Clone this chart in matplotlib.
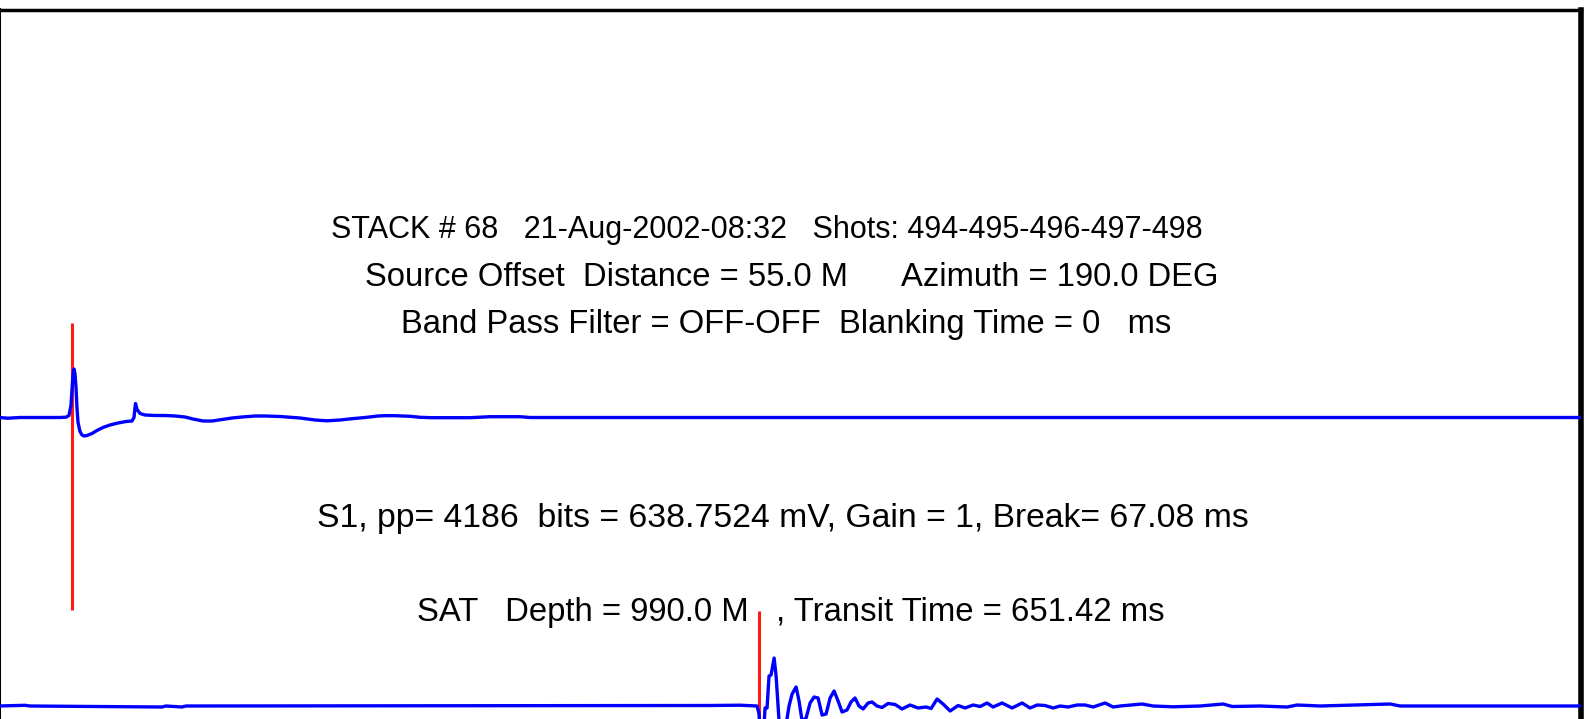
import matplotlib
matplotlib.use("Agg")
import matplotlib.pyplot as plt

# ---- header / annotation strings -------------------------------------------
stack_line = "STACK # 68   21-Aug-2002-08:32   Shots: 494-495-496-497-498"
source_line = "Source Offset  Distance = 55.0 M      Azimuth = 190.0 DEG"
filter_line = "Band Pass Filter = OFF-OFF  Blanking Time = 0   ms"
s1_line = "S1, pp= 4186  bits = 638.7524 mV, Gain = 1, Break= 67.08 ms"
sat_line = "SAT   Depth = 990.0 M   , Transit Time = 651.42 ms"

# ---- picks (ms) ------------------------------------------------------------
s1_break_ms = 67.08
sat_transit_ms = 651.42

# ---- time window (ms) ------------------------------------------------------
t_start, t_end = 5.0, 1350.0

# ---- S1 (source monitor) trace: time in ms, amplitude in display units ----
s1_time = [5.0, 12.6, 22.9, 56.9, 62.0, 64.5, 66.2, 67.1, 67.9, 68.8, 69.6,
           70.5, 71.3, 72.2, 73.9, 75.6, 77.3, 79.8, 84.1, 88.3, 93.4, 99.4,
           106.2, 113.0, 118.1, 119.8, 120.7, 121.1, 122.4, 125.0, 129.2,
           137.7, 146.2, 154.7, 163.2, 170.0, 178.5, 186.2, 194.7, 203.2,
           211.7, 222.7, 231.2, 244.0, 261.0, 273.8, 284.0, 295.0, 305.2,
           316.3, 327.3, 333.3, 341.8, 354.6, 363.1, 373.3, 405.6, 422.6,
           448.1, 456.6, 1350.0]
s1_amp = [0.0, -0.7, 0.0, 0.0, 0.3, 2.0, 12.0, 28.0, 42.0, 48.5, 44.0,
          30.0, 10.0, -5.0, -14.0, -17.5, -18.5, -18.0, -16.0, -13.0, -10.0,
          -7.5, -5.5, -4.0, -3.5, 0.0, 10.0, 14.0, 8.0, 4.0, 2.5,
          2.0, 2.0, 1.5, 0.5, -1.5, -3.5, -3.5, -2.0, -0.5,
          0.5, 1.5, 1.5, 1.0, -0.5, -2.5, -3.3, -2.5, -1.2,
          0.0, 1.5, 1.8, 1.8, 1.2, 0.2, -0.2, -0.2, 0.8,
          0.8, 0.0, 0.0]

# ---- SAT (downhole) trace --------------------------------------------------
sat_time = [5.0, 27.1, 31.4, 143.6, 147.0, 160.6, 164.0, 609.7, 635.2, 649.7,
            651.4, 652.3, 654.0, 655.6, 656.5, 658.2, 659.9, 661.6, 664.2,
            665.9, 668.4, 671.0, 673.5, 676.9, 679.5, 682.9, 685.4, 688.0,
            691.4, 694.8, 698.2, 701.6, 705.0, 708.4, 711.8, 715.2, 718.6,
            722.0, 726.2, 729.6, 733.0, 736.4, 739.9, 744.1, 747.5, 751.7,
            756.0, 761.1, 767.1, 773.0, 779.8, 786.6, 793.4, 797.7, 802.8,
            807.9, 813.9, 820.7, 826.6, 833.4, 839.4, 845.3, 850.4, 858.1,
            866.6, 875.1, 881.9, 887.9, 894.6, 901.5, 907.4, 914.2, 921.9,
            928.7, 935.5, 945.7, 952.5, 958.5, 977.1, 986.5, 1003.5, 1026.5,
            1046.1, 1053.7, 1077.5, 1100.5, 1109.0, 1128.6, 1188.1, 1196.6,
            1350.0]
sat_amp = [0.0, 0.7, 0.0, -1.0, 0.0, -1.0, 0.0, 0.5, 0.8, 0.0,
           -8.0, -30.0, -45.0, -20.0, -2.0, -2.0, 30.0, 31.0, 48.0,
           30.0, -15.0, -40.0, -25.0, 0.0, 12.0, 19.0, 5.0, -15.0,
           -12.0, 3.0, 9.0, 8.0, -9.0, -8.0, 8.0, 15.0, 5.0,
           -6.0, -4.0, 4.0, 8.0, 0.0, -3.0, 3.0, 4.0, 0.0,
           -1.5, 2.5, 1.5, -3.0, 1.0, -2.0, -1.0, -2.5, 7.0,
           2.0, -5.0, 0.5, -2.0, 1.0, -0.5, 3.0, -1.0, 3.0,
           -2.0, 3.0, -2.0, 1.0, 0.5, -2.0, 0.0, -1.0, 1.0,
           1.0, -1.0, 3.0, -1.0, 0.0, 2.0, 0.0, -0.8, 0.0,
           2.0, -0.5, 0.0, -1.0, 1.0, 0.0, 2.0, 0.0,
           0.0]

# ---- layout ----------------------------------------------------------------
W, H, DPI = 1585, 719, 100
fig = plt.figure(figsize=(W / DPI, H / DPI), dpi=DPI)
plt.rcParams["font.family"] = ["Liberation Sans", "DejaVu Sans"]

ax_left_px, ax_right_px, ax_top_px = -1.0, 1580.5, 9.5
ax_bottom_frac = -0.3
ax_top_frac = 1 - ax_top_px / H
ax = fig.add_axes([ax_left_px / W, ax_bottom_frac,
                   (ax_right_px - ax_left_px) / W, ax_top_frac - ax_bottom_frac])
ax_height_px = (ax_top_frac - ax_bottom_frac) * H

ax.set_xlim(t_start, t_end)
ax.set_ylim(-ax_height_px, 0)          # one display unit per pixel, 0 at top frame
ax.set_xticks([])
ax.set_yticks([])

for side, lw in (("top", 2.5), ("right", 4.0), ("left", 2.9), ("bottom", 2.9)):
    ax.spines[side].set_linewidth(lw)
    ax.spines[side].set_color("black")
    ax.spines[side].set_capstyle("projecting")

# trace baselines (display units below the top frame)
s1_offset = -(417.5 - ax_top_px)
sat_offset = -(706.0 - ax_top_px)
pick_up, pick_down = 94.5, 192.5

ax.plot(s1_time, [s1_offset + a for a in s1_amp], color="#0000ff", lw=2.4,
        solid_joinstyle="round", zorder=3)
ax.plot(sat_time, [sat_offset + a for a in sat_amp], color="#0000ff", lw=2.4,
        solid_joinstyle="round", zorder=3)

ax.vlines([s1_break_ms], s1_offset - pick_down, s1_offset + pick_up,
          color="#ff1a1a", lw=2.2, zorder=2)
ax.vlines([sat_transit_ms], sat_offset - pick_down, sat_offset + pick_up,
          color="#ff1a1a", lw=2.2, zorder=2)

# ---- annotation text -------------------------------------------------------
def put(text, x_px, base_px, size):
    fig.text(x_px / W, 1 - base_px / H, text, ha="left", va="baseline",
             fontsize=size, color="black")

put(stack_line, 331, 238.3, 22.0)
put(source_line, 365, 286.0, 23.6)
put(filter_line, 401, 333.3, 23.6)
put(s1_line, 317, 526.5, 24.3)
put(sat_line, 417, 621.5, 23.7)

fig.savefig("out.png", dpi=DPI)
